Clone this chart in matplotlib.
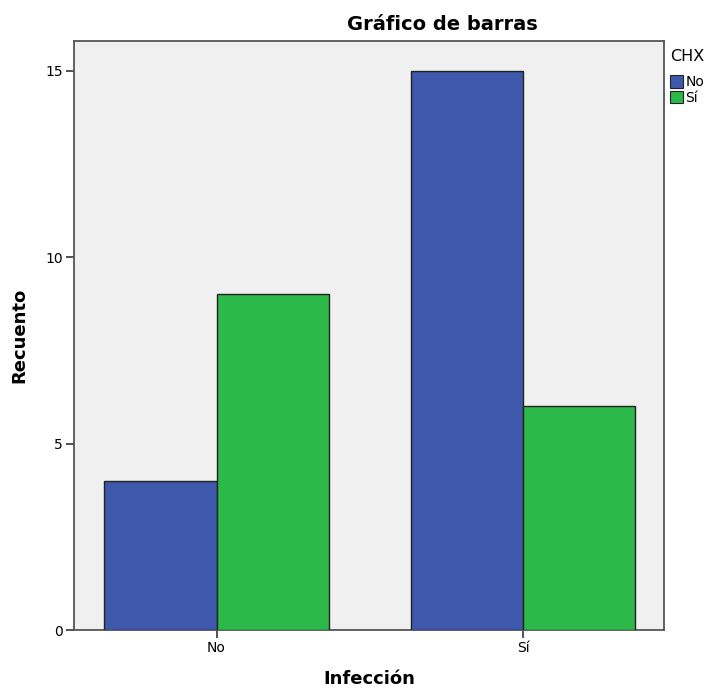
import matplotlib
matplotlib.use("Agg")
import matplotlib.pyplot as plt
import numpy as np
from matplotlib.patches import Patch

categories = ["No", "Sí"]
series_names = ["No", "Sí"]
chx_no = [4, 15]
chx_si = [9, 6]
yticks = [0, 5, 10, 15]

plt.rcParams['font.family'] = ['DejaVu Sans']

fig = plt.figure(figsize=(7.12, 6.9), dpi=100)
ax = fig.add_axes([74/712, 1-630/690, (664-74)/712, (630-41)/690])
ax.set_facecolor('#f0f0f0')

x = np.arange(len(categories))
w = 0.367
colors = ['#3e58ac', '#2db84a']
ax.bar(x - w/2, chx_no, width=w, color=colors[0], edgecolor='#222222', linewidth=1.0, zorder=3)
ax.bar(x + w/2, chx_si, width=w, color=colors[1], edgecolor='#222222', linewidth=1.0, zorder=3)

ax.set_xlim(-0.465, 1.46)
ax.set_ylim(0, 15.8)
ax.set_xticks(x)
ax.set_xticklabels(categories, fontsize=10)
ax.set_yticks(yticks)
ax.set_yticklabels([str(t) for t in yticks], fontsize=10)
ax.tick_params(direction='out', length=6, width=1.2, color='#333333', pad=2)
for s in ax.spines.values():
    s.set_color('#555555')
    s.set_linewidth(1.3)

ax.set_xlabel("Infección", fontsize=13, fontweight='bold', labelpad=11)
ax.set_ylabel("Recuento", fontsize=13, fontweight='bold', labelpad=12)
fig.text(442/712, 1-24/690, "Gráfico de barras", ha='center', va='center',
         fontsize=14, fontweight='bold')

handles = [Patch(facecolor=colors[i], edgecolor='#222222', linewidth=0.8, label=series_names[i]) for i in range(2)]
leg = fig.legend(handles=handles, title="CHX", loc='upper left', bbox_to_anchor=(670/712, 1-49/690),
                 frameon=False, fontsize=10, title_fontsize=11.5, handlelength=0.9, handleheight=1.0,
                 handletextpad=0.2, labelspacing=0.1, borderpad=0, borderaxespad=0)
leg._legend_box.align = 'left'
leg._legend_box.sep = 8

fig.savefig("out.png", dpi=100)
